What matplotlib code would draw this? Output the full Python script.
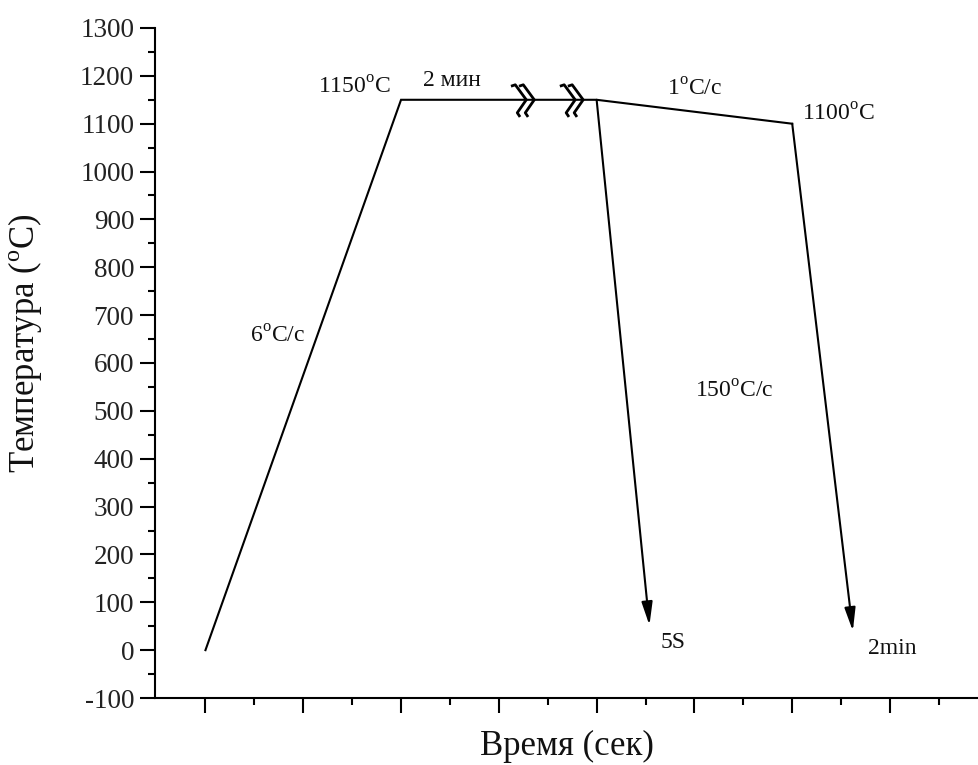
import matplotlib
matplotlib.use("Agg")
import matplotlib.pyplot as plt
from matplotlib.ticker import MultipleLocator, NullFormatter, FixedLocator
from matplotlib.transforms import Affine2D, ScaledTranslation

# ---- data ----
time_main = [0, 2, 4, 6]
temp_main = [0, 1150, 1150, 1100]
quench_start_t = [4, 6]
quench_start_T = [1150, 1100]
quench_end_t = [4.54, 6.62]
quench_end_T = [52, 40]
break_t = [3.25, 3.75]
break_T = [1150, 1150]
label_texts = ["1150$^\\mathrm{o}$C", "2 мин", "1$^\\mathrm{o}$C/c", "1100$^\\mathrm{o}$C",
               "6$^\\mathrm{o}$C/c", "150$^\\mathrm{o}$C/c", "5S", "2min"]
label_t = [1.52, 2.52, 5.0, 6.47, 0.74, 5.41, 4.78, 7.02]
label_T = [1176, 1191, 1172, 1118, 656, 541, 17, 4]
x_minor = [0.5, 1.5, 2.5, 3.5, 4.5, 5.5, 6.5, 7.5]

plt.rcParams['font.family'] = ['Liberation Serif', 'DejaVu Serif']
plt.rcParams['mathtext.fontset'] = 'custom'
plt.rcParams['mathtext.rm'] = 'Liberation Serif'
plt.rcParams['axes.unicode_minus'] = False

fig = plt.figure(figsize=(9.79, 7.65), dpi=100)
ax = fig.add_axes([155/979, 67/765, 1 - 155/979, (698-28)/765])

lw = 1.5
ax.plot(time_main, temp_main, color='black', lw=lw, solid_joinstyle='miter')
for x0, y0, x1, y1 in zip(quench_start_t, quench_start_T, quench_end_t, quench_end_T):
    ax.annotate('', xy=(x1, y1), xytext=(x0, y0),
                arrowprops=dict(arrowstyle='-|>,head_length=1.4,head_width=0.33',
                                mutation_scale=10, lw=lw, color='black',
                                shrinkA=0, shrinkB=0))

# break symbols (pixel offsets around the break point)
strokeA = ([-11, -8, 3, -6, -4], [14, 15, 0, -13, -16])
strokeB = ([-3, 0, 11, 2, 4], [14, 15, 0, -13, -16])
for bx, by in zip(break_t, break_T):
    tr = Affine2D() + ScaledTranslation(bx, by, ax.transData)
    for sx, sy in (strokeA, strokeB):
        ax.plot(sx, sy, color='black', lw=2.0, transform=tr, clip_on=False)

for s, x, y in zip(label_texts, label_t, label_T):
    ax.text(x, y, s, ha='center', va='center', fontsize=17, color='#111111')

ax.set_xlim(-0.516, 7.91)
ax.set_ylim(-100, 1300)
ax.xaxis.set_major_locator(MultipleLocator(1))
ax.xaxis.set_minor_locator(FixedLocator(x_minor))
ax.xaxis.set_major_formatter(NullFormatter())
ax.yaxis.set_major_locator(MultipleLocator(100))
ax.yaxis.set_minor_locator(MultipleLocator(50))

for side in ['top', 'right']:
    ax.spines[side].set_visible(False)
for side in ['left', 'bottom']:
    ax.spines[side].set_linewidth(1.5)

ax.tick_params(which='major', direction='out', length=11, width=1.5, labelsize=19.5,
               labelcolor='#222222', pad=4)
ax.tick_params(which='minor', direction='out', length=5, width=1.5)

ax.set_xlabel('Время (сек)', fontsize=25, labelpad=8, color='#111111')
ax.set_ylabel('Температура ($^\\mathrm{o}$C)', fontsize=25, labelpad=26, color='#111111')
ax.yaxis.label.set_y(0.53)

fig.savefig('out.png', dpi=100)
